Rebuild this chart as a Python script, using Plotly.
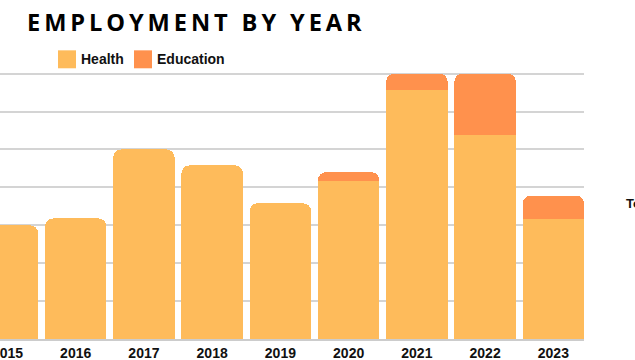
import plotly.graph_objects as go

# Employment figures by year (thousands)
years = ["2015", "2016", "2017", "2018", "2019", "2020", "2021", "2022", "2023"]
health = [15.0, 15.9, 25.0, 22.9, 17.9, 20.8, 32.9, 26.9, 15.8]
education = [None, None, None, None, None, 1.2, 2.1, 8.1, 3.1]

HEALTH_COLOR = "#FEBB5B"
EDU_COLOR = "#FF914D"

W, H = 635, 360
PLOT_L, PLOT_R = 0, 584
PLOT_T, PLOT_B = 65.7, 339.3


def px_x(px):
    return (px - PLOT_L) / (PLOT_R - PLOT_L)


def px_y(py):
    return (PLOT_B - py) / (PLOT_B - PLOT_T)


fig = go.Figure()
fig.add_trace(go.Bar(x=years, y=health, name="Health", marker_color=HEALTH_COLOR,
                     marker_line_width=0, showlegend=False))
fig.add_trace(go.Bar(x=years, y=education, name="Education", marker_color=EDU_COLOR,
                     marker_line_width=0, showlegend=False))

# Hand-placed legend: square swatches with bold labels
legend_items = [("Health", HEALTH_COLOR, 58, 79), ("Education", EDU_COLOR, 134, 155)]
shapes = []
annotations = []
for label, color, sx, tx in legend_items:
    shapes.append(dict(type="rect", xref="paper", yref="paper",
                       x0=px_x(sx), x1=px_x(sx + 18), y0=px_y(68), y1=px_y(50),
                       fillcolor=color, line_width=0, layer="above"))
    annotations.append(dict(text=label, xref="paper", yref="paper",
                            x=px_x(tx), y=px_y(59), xanchor="left", yanchor="middle",
                            showarrow=False,
                            font=dict(family="Liberation Sans, Arial", size=14,
                                      color="#111111", weight="bold")))

# Letter-spaced title: thin spaces between letters, a slightly wider gap between words
words = "EMPLOYMENT BY YEAR".split(" ")
title = "\u2009 \u2009".join("\u2009".join(w) for w in words)
annotations.append(dict(text=title, xref="paper", yref="paper",
                        x=px_x(25), y=px_y(21.5), xanchor="left", yanchor="middle",
                        showarrow=False,
                        font=dict(family="Open Sans", size=23.6, color="#000000", weight="bold")))

annotations.append(dict(text="Total", xref="paper", yref="paper",
                        x=px_x(624), y=px_y(204), xanchor="left", yanchor="middle",
                        showarrow=False,
                        font=dict(family="Liberation Sans, Arial", size=13,
                                  color="#111111", weight="bold")))

fig.update_layout(
    width=W, height=H,
    margin=dict(l=PLOT_L, r=W - PLOT_R, t=PLOT_T, b=H - PLOT_B, pad=0),
    barmode="stack",
    bargap=0.1,
    barcornerradius=8,
    plot_bgcolor="white",
    paper_bgcolor="white",
    shapes=shapes,
    annotations=annotations,
    showlegend=False,
)
fig.update_xaxes(
    type="category",
    range=[-0.109, 8.449],
    showgrid=False,
    showline=True, linecolor="#cccccc", linewidth=1.5,
    ticks="",
    tickfont=dict(family="Liberation Sans, Arial", size=14, color="#111111", weight="bold"),
    automargin=False,
)
fig.update_yaxes(
    range=[0, 36],
    dtick=5,
    showgrid=True, gridcolor="#d4d4d4", gridwidth=1.5,
    zeroline=False,
    showticklabels=False,
    ticks="",
    automargin=False,
)

fig.write_html("out.html")
